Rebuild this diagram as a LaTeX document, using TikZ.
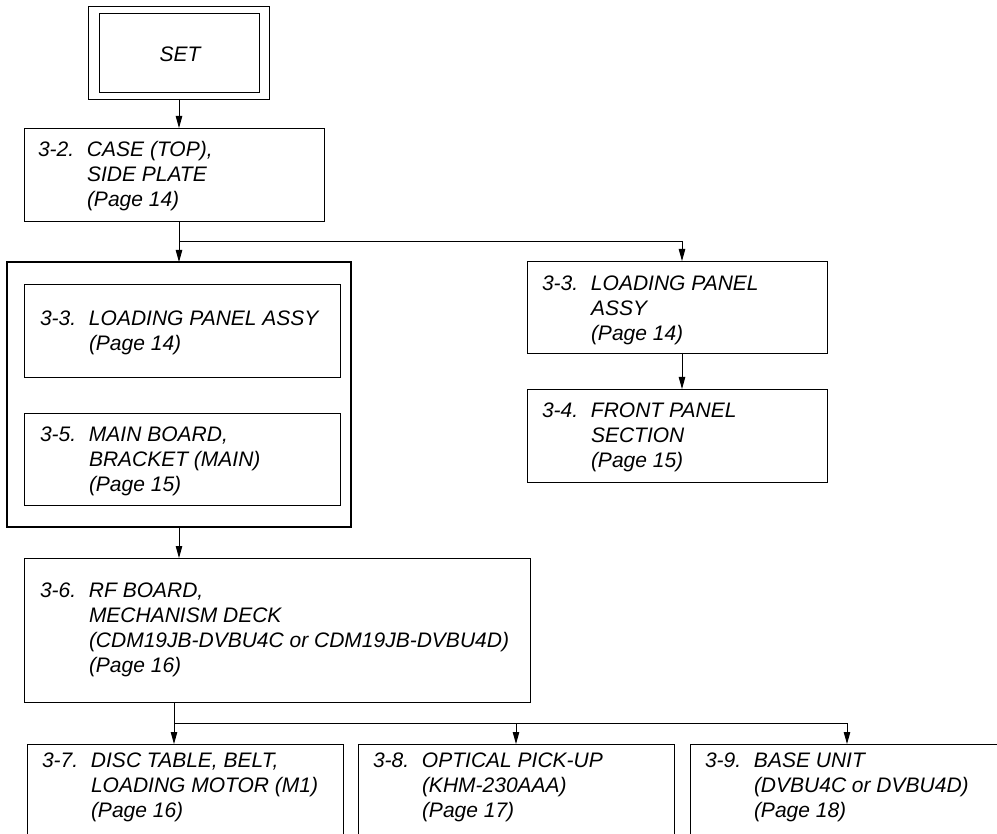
\documentclass[tikz,border=0pt]{standalone}
\usepackage{fontspec}
\setmainfont{Liberation Sans}
\usetikzlibrary{arrows.meta}
\tikzset{
  box/.style={draw, line width=0.9pt, inner sep=0pt, outer sep=0pt, anchor=north west},
  ln/.style={line width=0.9pt},
  arr/.style={line width=0.9pt, -{Triangle[length=12pt,width=6.5pt]}},
  lbl/.style={anchor=base west, inner sep=0pt, outer sep=0pt, font=\itshape\fontsize{21pt}{25pt}\selectfont},
}
\newcommand{\numcell}[1]{\makebox[49pt][l]{#1}}
\begin{document}
\begin{tikzpicture}[x=1pt,y=-1pt]
\useasboundingbox (0,0) rectangle (997,834);
\clip (0,0) rectangle (997,834);
% boxes
\node[box, minimum width=181pt, minimum height=93pt] (setout) at (88,6) {};
\node[box, minimum width=160pt, minimum height=79pt] (setin) at (99,13) {};
\node[box, minimum width=300pt, minimum height=93pt] (case) at (24,128) {};
\node[box, line width=2.5pt, minimum width=344pt, minimum height=265pt] (big) at (7,262) {};
\node[box, minimum width=316pt, minimum height=93pt] (in1) at (24,284) {};
\node[box, minimum width=316pt, minimum height=92pt] (in2) at (24,413) {};
\node[box, minimum width=506pt, minimum height=144pt] (rf) at (24,558) {};
\node[box, minimum width=300pt, minimum height=92pt] (ldg) at (527,261) {};
\node[box, minimum width=300pt, minimum height=93pt] (front) at (527,389) {};
\node[box, minimum width=316pt, minimum height=120pt] (b1) at (27,744) {};
\node[box, minimum width=316pt, minimum height=120pt] (b2) at (358,744) {};
\node[box, minimum width=340pt, minimum height=120pt] (b3) at (690,744) {};
% texts
\node[lbl, anchor=base] (tset) at (180,62) {SET};
\node[lbl] (tcase) at (38,157) {\begin{tabular}[t]{@{}l@{}l@{}}\numcell{3-2.}&CASE (TOP),\\&SIDE PLATE\\&(Page 14)\end{tabular}};
\node[lbl] (tin1) at (40,326) {\begin{tabular}[t]{@{}l@{}l@{}}\numcell{3-3.}&LOADING PANEL ASSY\\&(Page 14)\end{tabular}};
\node[lbl] (tin2) at (40,442) {\begin{tabular}[t]{@{}l@{}l@{}}\numcell{3-5.}&MAIN BOARD,\\&BRACKET (MAIN)\\&(Page 15)\end{tabular}};
\node[lbl] (trf) at (40,597) {\begin{tabular}[t]{@{}l@{}l@{}}\numcell{3-6.}&RF BOARD,\\&MECHANISM DECK\\&(CDM19JB-DVBU4C or CDM19JB-DVBU4D)\\&(Page 16)\end{tabular}};
\node[lbl] (tldg) at (542,291) {\begin{tabular}[t]{@{}l@{}l@{}}\numcell{3-3.}&LOADING PANEL\\&ASSY\\&(Page 14)\end{tabular}};
\node[lbl] (tfront) at (542,418) {\begin{tabular}[t]{@{}l@{}l@{}}\numcell{3-4.}&FRONT PANEL\\&SECTION\\&(Page 15)\end{tabular}};
\node[lbl] (tb1) at (42,767) {\begin{tabular}[t]{@{}l@{}l@{}}\numcell{3-7.}&DISC TABLE, BELT,\\&LOADING MOTOR (M1)\\&(Page 16)\end{tabular}};
\node[lbl] (tb2) at (373,767) {\begin{tabular}[t]{@{}l@{}l@{}}\numcell{3-8.}&OPTICAL PICK-UP\\&(KHM-230AAA)\\&(Page 17)\end{tabular}};
\node[lbl] (tb3) at (705,767) {\begin{tabular}[t]{@{}l@{}l@{}}\numcell{3-9.}&BASE UNIT\\&(DVBU4C or DVBU4D)\\&(Page 18)\end{tabular}};
% junctions
\coordinate (j1) at (179,241);
\coordinate (j2) at (682,241);
\coordinate (j3) at (174,723);
\coordinate (j4) at (516,723);
\coordinate (j5) at (847,723);
% connectors
\draw[arr] (setout.south -| j1) -- (case.north -| j1);
\draw[ln] (case.south -| j1) -- (j1) -- (j2);
\draw[arr] (j1) -- (big.north -| j1);
\draw[arr] (j2) -- (ldg.north -| j2);
\draw[arr] (ldg.south -| j2) -- (front.north -| j2);
\draw[arr] (big.south -| j1) -- (rf.north -| j1);
\draw[ln] (rf.south -| j3) -- (j3) -- (j5);
\draw[arr] (j3) -- (b1.north -| j3);
\draw[arr] (j4) -- (b2.north -| j4);
\draw[arr] (j5) -- (b3.north -| j5);
\end{tikzpicture}
\end{document}
